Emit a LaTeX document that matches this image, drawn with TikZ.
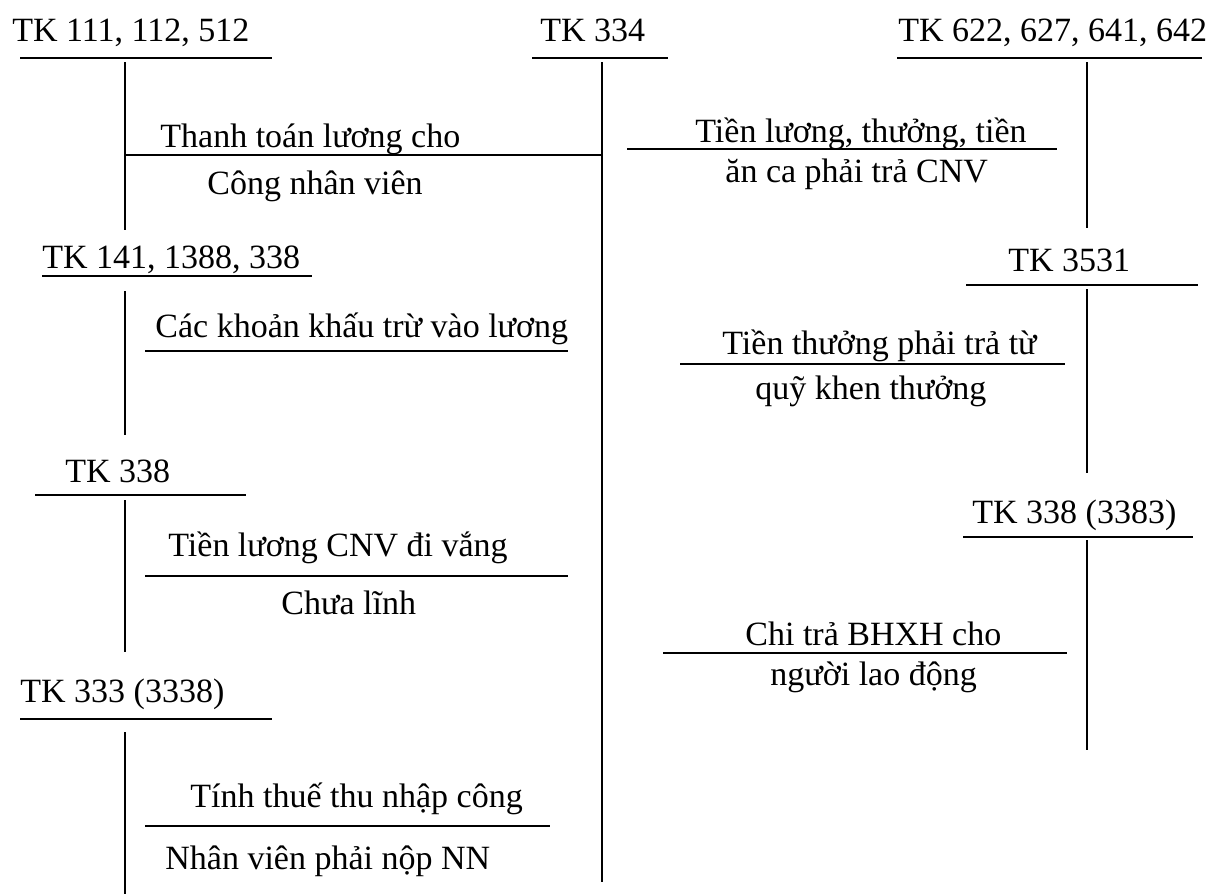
\documentclass[tikz,border=0pt]{standalone}
\usepackage{fontspec}
\setmainfont{Liberation Serif}
\begin{document}
\begin{tikzpicture}[x=0.5pt, y=-0.5pt, font=\fontsize{17}{20}\selectfont,
  acc/.style={anchor=base west, inner sep=0pt},
  txt/.style={anchor=base west, inner sep=0pt},
  rule/.style={line width=1pt}]
\useasboundingbox (0,0) rectangle (1211,894);
% account titles
\node[acc] (a111)  at (12,41)   {TK 111, 112, 512};
\node[acc] (a334)  at (540,41)  {TK 334};
\node[acc] (a622)  at (898,41)  {TK 622, 627, 641, 642};
\node[acc] (a141)  at (42,268)  {TK 141, 1388, 338};
\node[acc] (a3531) at (1008,271){TK 3531};
\node[acc] (a338)  at (65,482)  {TK 338};
\node[acc] (a3383) at (972,523) {TK 338 (3383)};
\node[acc] (a3338) at (20,702)  {TK 333 (3338)};

% underlines
\draw[rule] (20,58)   -- (272,58);
\draw[rule] (532,58)  -- (668,58);
\draw[rule] (897,58)  -- (1202,58);
\draw[rule] (42,276)  -- (312,276);
\draw[rule] (966,285) -- (1198,285);
\draw[rule] (35,495)  -- (246,495);
\draw[rule] (963,537) -- (1193,537);
\draw[rule] (20,719)  -- (272,719);

% stems
\coordinate (s111) at (125,62);   \coordinate (e111) at (125,230);
\coordinate (s334) at (602,62);   \coordinate (e334) at (602,882);
\coordinate (s622) at (1087,62);  \coordinate (e622) at (1087,228);
\coordinate (s141) at (125,291);  \coordinate (e141) at (125,435);
\coordinate (s3531) at (1087,289);\coordinate (e3531) at (1087,473);
\coordinate (s338) at (125,500);  \coordinate (e338) at (125,652);
\coordinate (s3383) at (1087,540);\coordinate (e3383) at (1087,750);
\coordinate (s3338) at (125,732); \coordinate (e3338) at (125,894);
\foreach \k in {111,334,622,141,3531,338,3383,3338}
  \draw[rule] (s\k) -- (e\k);

% entries
\draw[rule] (s111 |- 0,155) -- (s334 |- 0,155);
\node[txt] (n1a) at (160,147) {Thanh toán lương cho};
\node[txt] (n1b) at (207,194) {Công nhân viên};

\draw[rule] (627,149) -- (1057,149);
\node[txt] (n2a) at (695,142) {Tiền lương, thưởng, tiền};
\node[txt] (n2b) at (725,182) {ăn ca phải trả CNV};

\draw[rule] (145,351) -- (568,351);
\node[txt] (n3a) at (155,337) {Các khoản khấu trừ vào lương};

\draw[rule] (680,364) -- (1065,364);
\node[txt] (n4a) at (722,354) {Tiền thưởng phải trả từ};
\node[txt] (n4b) at (755,399) {quỹ khen thưởng};

\draw[rule] (145,576) -- (568,576);
\node[txt] (n5a) at (168,556) {Tiền lương CNV đi vắng};
\node[txt] (n5b) at (281,614) {Chưa lĩnh};

\draw[rule] (663,653) -- (1067,653);
\node[txt] (n6a) at (745,645) {Chi trả BHXH cho};
\node[txt] (n6b) at (770,685) {người lao động};

\draw[rule] (145,826) -- (550,826);
\node[txt] (n7a) at (190,807) {Tính thuế thu nhập công};
\node[txt] (n7b) at (165,869) {Nhân viên phải nộp NN};
\end{tikzpicture}
\end{document}
